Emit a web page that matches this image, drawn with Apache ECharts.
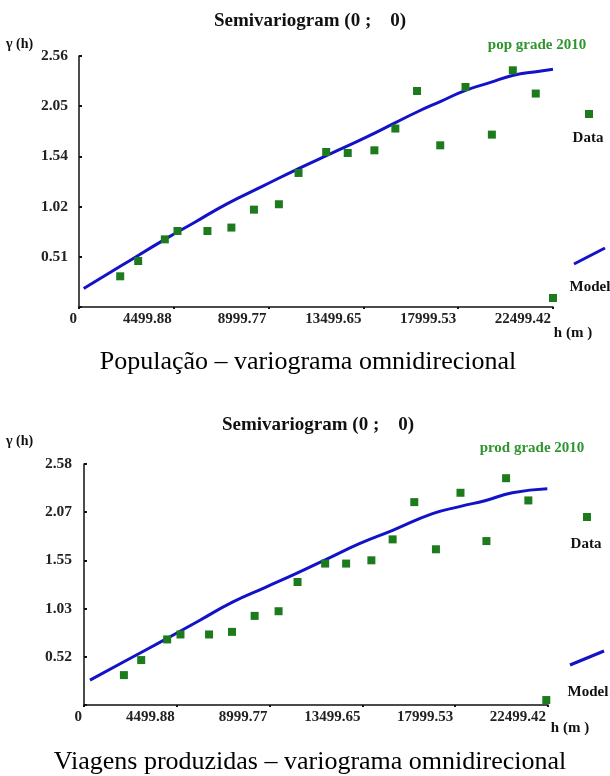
<!DOCTYPE html>
<html>
<head>
<meta charset="utf-8">
<script src="https://cdn.jsdelivr.net/npm/echarts@6/dist/echarts.min.js"></script>
<style>
html,body{margin:0;padding:0;background:#fff;}
#c{width:610px;height:776px;}
</style>
</head>
<body>
<div id="c"></div>
<script>
// ---- tick labels ----
const xTickLabels = ['0', '4499.88', '8999.77', '13499.65', '17999.53', '22499.42'];
const yTickLabelsPop = ['', '0.51', '1.02', '1.54', '2.05', '2.56'];
const yTickLabelsProd = ['', '0.52', '1.03', '1.55', '2.07', '2.58'];

// ---- População (pop grade 2010) ----
const popLag = [1956, 2809, 4074, 4675, 6096, 7233, 8304, 9488, 10421, 11733, 12756, 14021, 15016, 16044, 17147, 18346, 19597, 20592, 21681, 22499];
const popGamma = [0.313, 0.469, 0.690, 0.775, 0.775, 0.810, 0.993, 1.048, 1.367, 1.581, 1.571, 1.598, 1.820, 2.203, 1.649, 2.244, 1.758, 2.414, 2.177, 0.092];
const popModelLag = [223, 2000, 4074, 5500, 7045, 8700, 10421, 12000, 13665, 15000, 16044, 17200, 18346, 19500, 20620, 21700, 22499];
const popModelGamma = [0.188, 0.420, 0.690, 0.865, 1.055, 1.230, 1.412, 1.569, 1.735, 1.878, 1.989, 2.100, 2.210, 2.288, 2.363, 2.400, 2.424];

// ---- Viagens produzidas (prod grade 2010) ----
const prodLag = [1935, 2774, 4032, 4678, 6064, 7176, 8274, 9435, 10355, 11694, 12710, 13935, 14966, 16016, 17065, 18256, 19514, 20467, 21546, 22417];
const prodGamma = [0.320, 0.481, 0.702, 0.755, 0.755, 0.783, 0.954, 1.004, 1.317, 1.514, 1.514, 1.549, 1.773, 2.172, 1.667, 2.272, 1.755, 2.428, 2.190, 0.053];
const prodModelLag = [290, 2000, 4032, 5600, 7224, 8800, 10355, 11900, 13355, 14966, 16901, 18256, 19485, 20772, 22466];
const prodModelGamma = [0.267, 0.471, 0.713, 0.905, 1.104, 1.260, 1.414, 1.575, 1.727, 1.870, 2.048, 2.126, 2.190, 2.272, 2.315];

const xMax = 22499.42, xStep = xMax / 5;
const yMaxPop = 2.56, yMaxProd = 2.58;

const SERIF = '"Liberation Serif", "DejaVu Serif", serif';
const GREEN = '#1d7a1d';
const BLUE = '#1212c8';

const zip = (a, b) => a.map((v, i) => [v, b[i]]);

function xAxis(gi) {
  return {
    type: 'value', gridIndex: gi, min: 0, max: xMax, interval: xStep,
    splitLine: { show: false },
    axisLine: { lineStyle: { color: '#111', width: 1.5 } },
    axisTick: { show: true, inside: false, length: 2, lineStyle: { color: '#111', width: 2 } },
    axisLabel: {
      margin: 5, align: 'right', padding: [0, 2, 0, 0],
      fontFamily: SERIF, fontWeight: 'bold', fontSize: 15, color: '#222',
      formatter: v => xTickLabels[Math.round(v / xStep)] || ''
    }
  };
}
function yAxis(gi, max, labels, margin) {
  const step = max / 5;
  return {
    type: 'value', gridIndex: gi, min: 0, max: max, interval: step,
    splitLine: { show: false },
    axisLine: { show: true, lineStyle: { color: '#111', width: 1.5 } },
    axisTick: { show: true, inside: true, length: 3, lineStyle: { color: '#111', width: 2 } },
    axisLabel: {
      margin: margin, fontFamily: SERIF, fontWeight: 'bold', fontSize: 15.5, color: '#222',
      formatter: v => labels[Math.round(v / step)] || ''
    }
  };
}

function txt(x, y, s, opt) {
  return {
    type: 'text', x: x, y: y,
    style: Object.assign({ text: s, fontFamily: SERIF, fontSize: 15, fontWeight: 'bold', fill: '#111', align: 'center', verticalAlign: 'middle' }, opt || {})
  };
}

const chart = echarts.init(document.getElementById('c'), null, { renderer: 'canvas' });
chart.setOption({
  backgroundColor: '#fff',
  animation: false,
  grid: [
    { left: 79, top: 56, width: 474, height: 251 },
    { left: 84, top: 464, width: 464, height: 241 }
  ],
  xAxis: [xAxis(0), xAxis(1)],
  yAxis: [yAxis(0, yMaxPop, yTickLabelsPop, 11), yAxis(1, yMaxProd, yTickLabelsProd, 12)],
  series: [
    { type: 'line', xAxisIndex: 0, yAxisIndex: 0, data: zip(popModelLag, popModelGamma), smooth: true, showSymbol: false, lineStyle: { color: BLUE, width: 3 }, z: 2 },
    { type: 'scatter', xAxisIndex: 0, yAxisIndex: 0, data: zip(popLag, popGamma), symbol: 'rect', symbolSize: 8, itemStyle: { color: GREEN, opacity: 1 }, z: 3, clip: false },
    { type: 'line', xAxisIndex: 1, yAxisIndex: 1, data: zip(prodModelLag, prodModelGamma), smooth: true, showSymbol: false, lineStyle: { color: BLUE, width: 3 }, z: 2 },
    { type: 'scatter', xAxisIndex: 1, yAxisIndex: 1, data: zip(prodLag, prodGamma), symbol: 'rect', symbolSize: 8, itemStyle: { color: GREEN, opacity: 1 }, z: 3, clip: false }
  ],
  graphic: [
    // chart 1 texts
    txt(310, 21, 'Semivariogram (0 ;    0)', { fontSize: 19 }),
    txt(6, 44, 'γ (h)', { fontSize: 14, align: 'left' }),
    txt(537, 45, 'pop grade 2010', { fontSize: 15, fill: '#2f962f' }),
    { type: 'rect', shape: { x: 585, y: 110, width: 8, height: 8 }, style: { fill: GREEN } },
    txt(588, 138, 'Data'),
    { type: 'line', shape: { x1: 574, y1: 264, x2: 605, y2: 248 }, style: { stroke: BLUE, lineWidth: 3 } },
    txt(590, 287, 'Model'),
    txt(573, 333, 'h (m )'),
    txt(308, 362, 'População – variograma omnidirecional', { fontSize: 26, fontWeight: 'normal', fill: '#000' }),
    // chart 2 texts
    txt(318, 425, 'Semivariogram (0 ;    0)', { fontSize: 19 }),
    txt(6, 441, 'γ (h)', { fontSize: 14, align: 'left' }),
    txt(532, 448, 'prod grade 2010', { fontSize: 15, fill: '#2f962f' }),
    { type: 'rect', shape: { x: 583, y: 513, width: 8, height: 8 }, style: { fill: GREEN } },
    txt(586, 544, 'Data'),
    { type: 'line', shape: { x1: 570, y1: 665, x2: 604, y2: 651 }, style: { stroke: BLUE, lineWidth: 3 } },
    txt(588, 692, 'Model'),
    txt(570, 728, 'h (m )'),
    txt(310, 762, 'Viagens produzidas – variograma omnidirecional', { fontSize: 26, fontWeight: 'normal', fill: '#000' })
  ]
});
</script>
</body>
</html>
